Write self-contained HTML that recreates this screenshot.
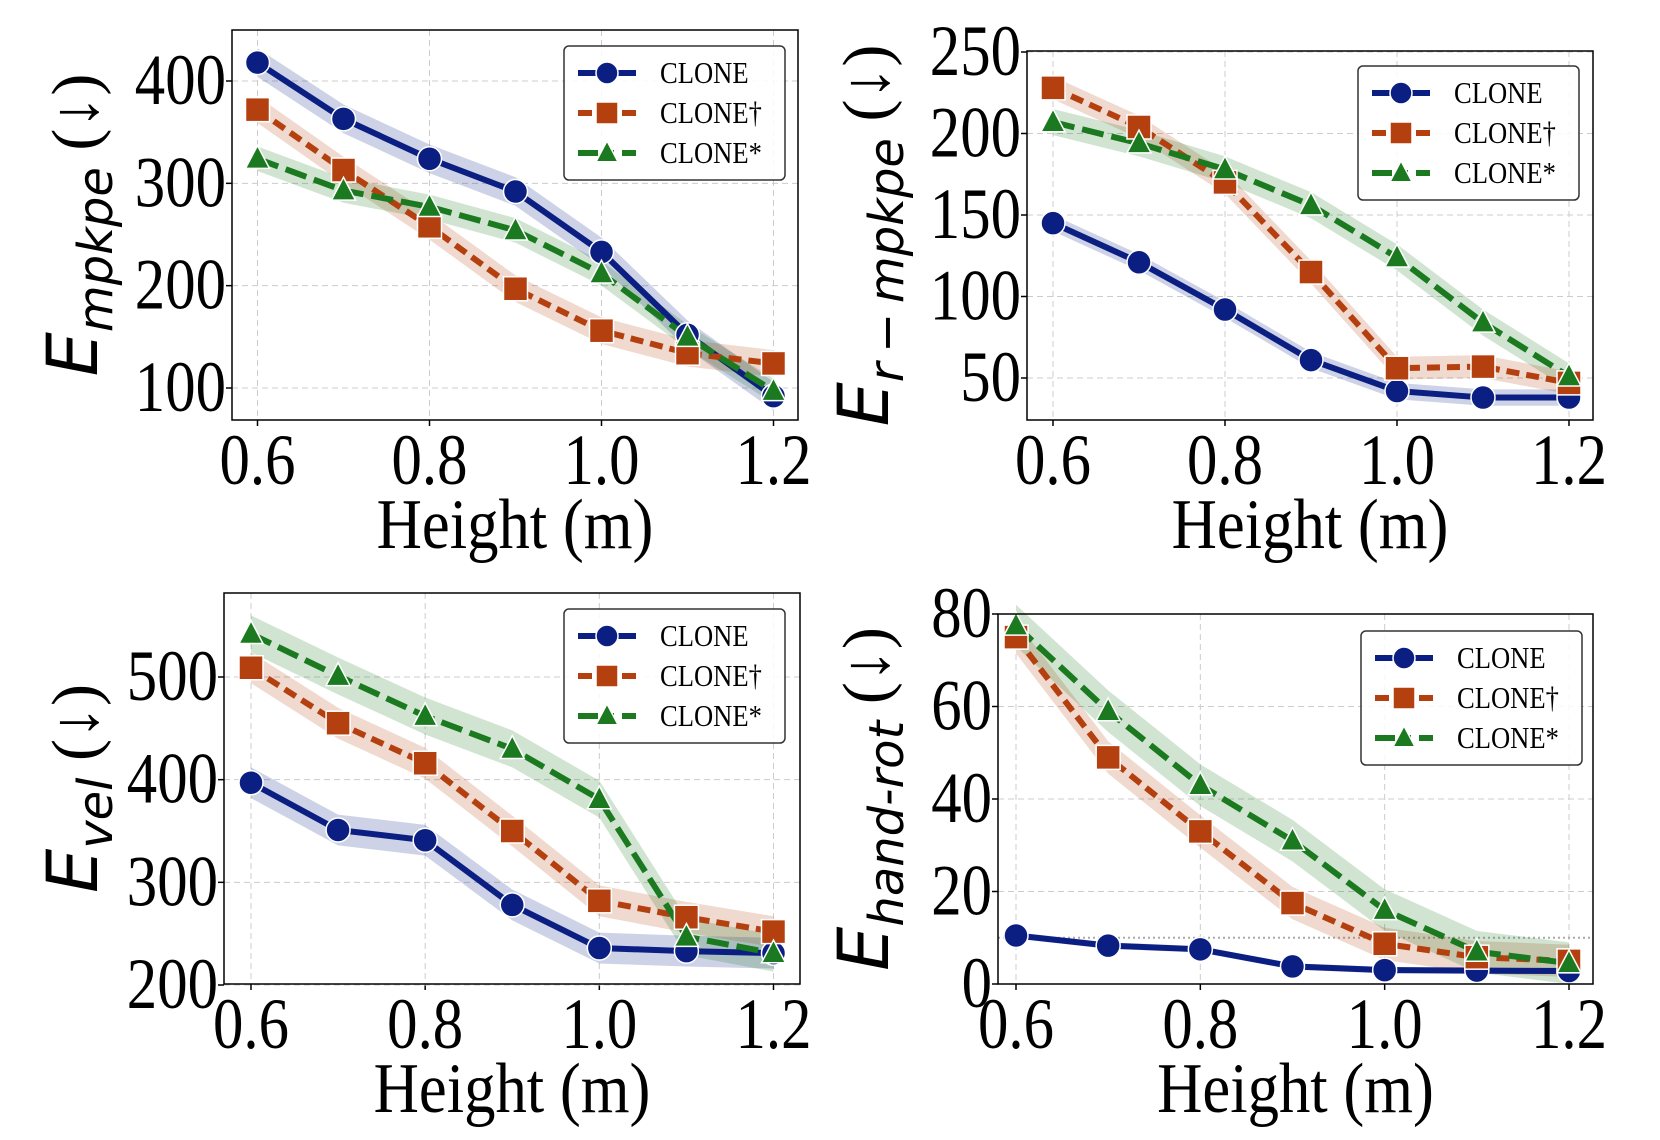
<!DOCTYPE html>
<html><head><meta charset="utf-8"><style>
html,body{margin:0;padding:0;background:#fff;width:1660px;height:1140px;overflow:hidden}
svg text{font-family:"Liberation Serif",serif}
</style></head><body>
<svg id="fig" width="1660" height="1140" viewBox="0 0 1660 1140" xmlns="http://www.w3.org/2000/svg"></svg>
<script>
const heights = [0.6, 0.7, 0.8, 0.9, 1.0, 1.1, 1.2];
const xTicks = [0.6, 0.8, 1.0, 1.2];
const xTickLabels = ["0.6", "0.8", "1.0", "1.2"];
const seriesNames = ["CLONE", "CLONE\u2020", "CLONE*"];

const mpkpeClone = [418, 363, 324, 292, 233, 152, 92];
const mpkpeDagger = [372, 313, 258, 197, 156, 134, 124];
const mpkpeStar = [324, 293, 277, 254, 212, 150, 97];
const mpkpeTicks = [100, 200, 300, 400];

const rmpkpeClone = [145, 121, 92, 61, 42, 38, 38];
const rmpkpeDagger = [228, 204, 170, 115, 56, 57, 47];
const rmpkpeStar = [207, 194, 178, 156, 124, 84, 51];
const rmpkpeTicks = [50, 100, 150, 200, 250];

const velClone = [397, 351, 341, 278, 236, 233, 231];
const velDagger = [509, 455, 416, 350, 282, 266, 252];
const velStar = [542, 501, 462, 430, 381, 247, 231];
const velTicks = [200, 300, 400, 500];

const rotClone = [10.5, 8.3, 7.5, 3.8, 3.0, 2.9, 2.8];
const rotDagger = [75, 49, 33, 17.5, 8.7, 5.8, 5.0];
const rotStar = [77.5, 59, 43, 31, 16, 7, 4.5];
const rotTicks = [0, 20, 40, 60, 80];

const NS = "http://www.w3.org/2000/svg";
const svg = document.getElementById("fig");
const colors = ["#0b1f82", "#b5400f", "#1b7a1f"];
const dashes = ["", "13,7", "22,8"];

function mk(tag, attrs, parent) {
  const e = document.createElementNS(NS, tag);
  for (const k in attrs) e.setAttribute(k, attrs[k]);
  (parent || svg).appendChild(e);
  return e;
}
function marker(g, i, x, y, r) {
  let m;
  if (i === 0) m = mk("circle", {cx: x, cy: y, r: r, fill: colors[0], stroke: "#fff", "stroke-width": 1.5}, g);
  else if (i === 1) m = mk("rect", {x: x - r, y: y - r, width: 2 * r, height: 2 * r, fill: colors[1], stroke: "#fff", "stroke-width": 1.5}, g);
  else m = mk("polygon", {points: `${x},${y - r * 1.1} ${x - r},${y + r * 0.8} ${x + r},${y + r * 0.8}`, fill: colors[2], stroke: "#fff", "stroke-width": 1.5}, g);
  return m;
}

function chart(cfg) {
  const g = mk("g", {});
  
  
  const sx = v => cfg.x06 + (v - 0.6) / 0.6 * (cfg.x12 - cfg.x06);
  const sy = v => cfg.ya + (v - cfg.va) / (cfg.vb - cfg.va) * (cfg.yb - cfg.ya);
  xTicks.forEach((t, i) => {
    const gl = mk("line", {x1: sx(t), x2: sx(t), y1: cfg.top, y2: cfg.bottom, stroke: "#ccc", "stroke-width": 1, "stroke-dasharray": "6,4"}, g);
    
    
    mk("line", {x1: sx(t), x2: sx(t), y1: cfg.bottom, y2: cfg.bottom + 6, stroke: "#000", "stroke-width": 1.5}, g);
    const tl = mk("text", {transform: `translate(${sx(t)},${cfg.bottom + 64}) scale(0.95,1.12)`, "text-anchor": "middle", "font-size": 64}, g);
    tl.textContent = xTickLabels[i];
    
    
  });
  cfg.ticks.forEach(t => {
    const gl = mk("line", {x1: cfg.left, x2: cfg.right, y1: sy(t), y2: sy(t), stroke: "#ccc", "stroke-width": 1, "stroke-dasharray": "6,4"}, g);
    
    
    mk("line", {x1: cfg.left - 6, x2: cfg.left, y1: sy(t), y2: sy(t), stroke: "#000", "stroke-width": 1.5}, g);
    const tl = mk("text", {transform: `translate(${cfg.left - 6},${sy(t) + 23}) scale(0.95,1.12)`, "text-anchor": "end", "font-size": 64}, g);
    tl.textContent = String(t);
    
    
  });
  if (cfg.refLine !== undefined) {
    const rl = mk("line", {x1: cfg.left, x2: cfg.right, y1: sy(cfg.refLine), y2: sy(cfg.refLine), stroke: "#aaa", "stroke-width": 2, "stroke-dasharray": "2,3"}, g);
    
    
  }
  cfg.series.forEach((s, i) => {
    const e = cfg.err[i];
    let up = s.map((v, j) => `${sx(heights[j])},${sy(v + e)}`);
    let dn = s.map((v, j) => `${sx(heights[j])},${sy(v - e)}`).reverse();
    const b = mk("polygon", {points: up.concat(dn).join(" "), fill: colors[i], opacity: 0.2}, g);
    
    
  });
  cfg.series.forEach((s, i) => {
    const pts = s.map((v, j) => `${sx(heights[j])},${sy(v)}`).join(" ");
    const l = mk("polyline", {points: pts, fill: "none", stroke: colors[i], "stroke-width": 6, "stroke-dasharray": dashes[i]}, g);
    
    
  });
  cfg.series.forEach((s, i) => {
    s.forEach((v, j) => {
      const m = marker(g, i, sx(heights[j]), sy(v), 12);
      
      
    });
  });
  const fr = mk("rect", {x: cfg.left, y: cfg.top, width: cfg.right - cfg.left, height: cfg.bottom - cfg.top, fill: "none", stroke: "#000", "stroke-width": 1.5}, g);
  
  
  const xl = mk("text", {transform: `translate(${(cfg.left + cfg.right) / 2},${cfg.bottom + 128}) scale(0.95,1.08)`, "text-anchor": "middle", "font-size": 66}, g);
  xl.textContent = "Height (m)";
  
  
  const cy = (cfg.top + cfg.bottom) / 2;
  const yl = mk("text", {transform: `translate(${cfg.ylx},${cy}) rotate(-90)`, "text-anchor": "middle", "font-size": 66}, g);
  
  
  const t1 = mk("tspan", {"font-family": "DejaVu Sans, sans-serif", "font-style": "italic", "font-size": 70}, yl); t1.textContent = "E";
  const t2 = mk("tspan", {"font-family": "DejaVu Sans, sans-serif", "font-style": "italic", "font-size": cfg.subSize, dy: 15}, yl); t2.textContent = cfg.sub;
  const t3 = mk("tspan", {dy: -15}, yl); t3.textContent = " (\u2193)";
  const lg = mk("g", {}, g);
  
  
  mk("rect", {x: cfg.lx, y: cfg.ly, width: 221, height: 134, rx: 5, fill: "#fff", "fill-opacity": 0.85, stroke: "#333", "stroke-width": 1.5}, lg);
  seriesNames.forEach((n, i) => {
    const y = cfg.ly + 27 + i * 40;
    const e = mk("g", {}, lg);
    
    
    mk("line", {x1: cfg.lx + 14, x2: cfg.lx + 72, y1: y, y2: y, stroke: colors[i], "stroke-width": 6, "stroke-dasharray": i === 0 ? "" : (i === 1 ? "14,8" : "20,8,8,8")}, e);
    marker(e, i, cfg.lx + 43, y, 11);
    const t = mk("text", {transform: `translate(${cfg.lx + 96},${y + 10}) scale(0.95,1.08)`, "font-size": 28}, e);
    t.textContent = n;
  });
}

chart({name: "mpkpe-chart", left: 232, right: 798, top: 30, bottom: 420, x06: 257.5, x12: 773.5,
  ya: 81, va: 400, yb: 388, vb: 100, ticks: mpkpeTicks, series: [mpkpeClone, mpkpeDagger, mpkpeStar],
  err: [14, 13, 12], ylx: 97, sub: "mpkpe", subSize: 48, lx: 564, ly: 46});
chart({name: "r-mpkpe-chart", left: 1027, right: 1593, top: 51, bottom: 420, x06: 1053, x12: 1569,
  ya: 52, va: 250, yb: 378, vb: 50, ticks: rmpkpeTicks, series: [rmpkpeClone, rmpkpeDagger, rmpkpeStar],
  err: [5, 7, 8], ylx: 888, sub: "r\u2009\u2212\u2009mpkpe", subSize: 48, lx: 1358, ly: 66});
chart({name: "vel-chart", left: 224, right: 800, top: 593, bottom: 984, x06: 251, x12: 773.5,
  ya: 677, va: 500, yb: 985, vb: 200, ticks: velTicks, series: [velClone, velDagger, velStar],
  err: [15, 15, 18], ylx: 97, sub: "vel", subSize: 48, lx: 564, ly: 609});
chart({name: "hand-rot-chart", left: 998, right: 1593, top: 614, bottom: 984, x06: 1016, x12: 1569,
  ya: 614, va: 80, yb: 984, vb: 0, ticks: rotTicks, series: [rotClone, rotDagger, rotStar],
  err: [0.7, 3.5, 4.5], ylx: 888, sub: "hand-rot", subSize: 48, lx: 1361, ly: 631, refLine: 10});
</script>
</body></html>
